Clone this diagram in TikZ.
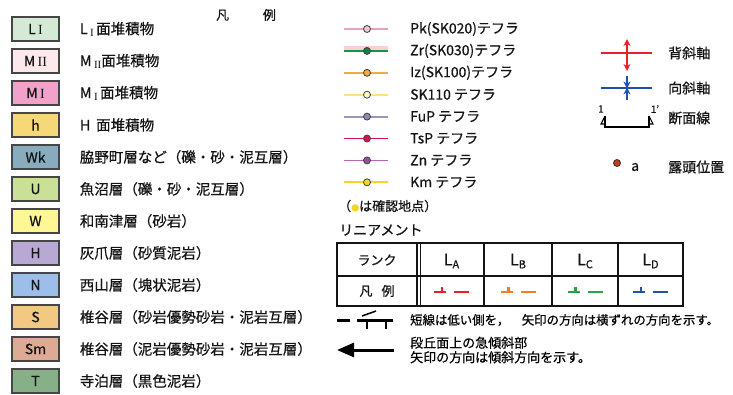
\documentclass[tikz,border=0pt]{standalone}
\usepackage{fontspec}
\setmainfont{Noto Sans CJK JP}[FakeBold=0.6]
\newfontfamily\numfont{Liberation Serif}
\usetikzlibrary{positioning,arrows.meta}
\definecolor{InkGray}{RGB}{20,20,20}
\definecolor{EdgeGray}{RGB}{70,70,70}
% unit colours
\definecolor{UnitLI}{RGB}{212,234,212}
\definecolor{UnitMII}{RGB}{253,232,236}
\definecolor{UnitMI}{RGB}{242,162,202}
\definecolor{UnitH}{RGB}{246,216,120}
\definecolor{UnitWk}{RGB}{134,172,190}
\definecolor{UnitU}{RGB}{202,224,150}
\definecolor{UnitW}{RGB}{255,246,150}
\definecolor{UnitHai}{RGB}{184,168,212}
\definecolor{UnitN}{RGB}{156,190,234}
\definecolor{UnitS}{RGB}{242,200,130}
\definecolor{UnitSm}{RGB}{222,170,150}
\definecolor{UnitT}{RGB}{136,176,136}
% tephra colours
\definecolor{PkLine}{RGB}{232,160,190}
\definecolor{PkDot}{RGB}{242,196,214}
\definecolor{ZrBand}{RGB}{250,206,210}
\definecolor{ZrLine}{RGB}{20,150,70}
\definecolor{ZrDot}{RGB}{25,125,60}
\definecolor{IzLine}{RGB}{240,172,60}
\definecolor{SkLine}{RGB}{255,226,120}
\definecolor{SkDot}{RGB}{255,246,205}
\definecolor{FuPLine}{RGB}{150,150,192}
\definecolor{FuPDot}{RGB}{138,138,180}
\definecolor{TsPLine}{RGB}{212,20,80}
\definecolor{ZnLine}{RGB}{182,100,182}
\definecolor{ZnDot}{RGB}{150,80,160}
\definecolor{KmLine}{RGB}{245,212,40}
% lineament colours
\definecolor{LinRed}{RGB}{225,35,35}
\definecolor{LinOrange}{RGB}{240,128,40}
\definecolor{LinGreen}{RGB}{35,165,70}
\definecolor{LinBlue}{RGB}{35,80,170}
\definecolor{AxisRed}{RGB}{232,32,42}
\definecolor{AxisBlue}{RGB}{31,79,176}
\definecolor{RockRed}{RGB}{200,60,30}
\tikzset{
  unitbox/.style={draw=EdgeGray,line width=1.3pt,minimum width=47pt,
    minimum height=24pt,inner sep=0pt,text=InkGray,font=\fontsize{14}{14}\selectfont},
  desc/.style={anchor=west,inner sep=0pt,text=InkGray,font=\fontsize{14.5}{16}\selectfont},
  cell/.style={inner sep=0pt,text=InkGray,font=\fontsize{14}{16}\selectfont},
  tephra/.style={line width=1.8pt},
  tdot/.style={circle,draw=black!75,line width=0.8pt,minimum size=7pt,inner sep=0pt},
  tabline/.style={draw=InkGray,line width=1.2pt},
  lsym/.style={line width=2.6pt},
  axis/.style={line width=1.6pt},
  fault/.style={line width=3pt,draw=black}
}

\begin{document}
\begin{tikzpicture}[x=1pt,y=-1pt]
  \useasboundingbox (0,0) rectangle (733,394);
  \node[cell,font=\fontsize{13}{13}\selectfont] (title) at (246,15) {凡\hspace{2.6em}例};

  % stratigraphic units
  \node[unitbox,fill=UnitLI] (bLI) at (35.5,29) {L\,{\numfont\fontsize{14}{14}\selectfont I}};
  \node[unitbox,fill=UnitMII] (bMII) at (35.5,61) {M\,{\numfont\fontsize{14}{14}\selectfont II}};
  \node[unitbox,fill=UnitMI] (bMI) at (35.5,93) {M\,{\numfont\fontsize{14}{14}\selectfont I}};
  \node[unitbox,fill=UnitH] (bh) at (35.5,125) {h};
  \node[unitbox,fill=UnitWk] (bWk) at (35.5,157) {Wk};
  \node[unitbox,fill=UnitU] (bU) at (35.5,189) {U};
  \node[unitbox,fill=UnitW] (bW) at (35.5,221) {W};
  \node[unitbox,fill=UnitHai] (bH) at (35.5,253) {H};
  \node[unitbox,fill=UnitN] (bN) at (35.5,285) {N};
  \node[unitbox,fill=UnitS] (bS) at (35.5,317) {S};
  \node[unitbox,fill=UnitSm] (bSm) at (35.5,349) {Sm};
  \node[unitbox,fill=UnitT] (bT) at (35.5,381) {T};
  \node[desc,right=20pt of bLI] (tLI) {L\,\raisebox{-2pt}{\numfont\fontsize{11}{11}\selectfont I}\,面堆積物};
  \node[desc,right=20pt of bMII] (tMII) {M\,\raisebox{-2pt}{\numfont\fontsize{11}{11}\selectfont II}面堆積物};
  \node[desc,right=20pt of bMI] (tMI) {M\,\raisebox{-2pt}{\numfont\fontsize{11}{11}\selectfont I}\,面堆積物};
  \node[desc,right=20pt of bh] (th) {H\hspace{0.4em}面堆積物};
  \node[desc,right=20pt of bWk] (tWk) {脇野町層など（礫・砂・泥互層）};
  \node[desc,right=20pt of bU] (tU) {魚沼層（礫・砂・泥互層）};
  \node[desc,right=20pt of bW] (tW) {和南津層（砂岩）};
  \node[desc,right=20pt of bH] (tH) {灰爪層（砂質泥岩）};
  \node[desc,right=20pt of bN] (tN) {西山層（塊状泥岩）};
  \node[desc,right=20pt of bS] (tS) {椎谷層（砂岩優勢砂岩・泥岩互層）};
  \node[desc,right=20pt of bSm] (tSm) {椎谷層（泥岩優勢砂岩・泥岩互層）};
  \node[desc,right=20pt of bT] (tT) {寺泊層（黒色泥岩）};

  % tephra
  \draw[tephra,PkLine] (344,29) -- (388,29);
  \draw[line width=4pt,ZrBand] (344,48) -- (388,48);
  \draw[line width=2.2pt,ZrLine] (344,50.9) -- (388,50.9);
  \draw[tephra,IzLine] (344,72.8) -- (388,72.8);
  \draw[tephra,SkLine] (344,94.7) -- (388,94.7);
  \draw[tephra,FuPLine] (344,116.6) -- (388,116.6);
  \draw[tephra,TsPLine] (344,138.5) -- (388,138.5);
  \draw[tephra,ZnLine] (344,160.4) -- (388,160.4);
  \draw[tephra,KmLine] (344,182.3) -- (388,182.3);
  \node[tdot,fill=PkDot] (dPk) at (367,29) {};
  \node[tdot,fill=ZrDot] (dZr) at (367,50.9) {};
  \node[tdot,fill=IzLine] (dIz) at (367,72.8) {};
  \node[tdot,fill=SkDot] (dSk) at (367,94.7) {};
  \node[tdot,fill=FuPDot] (dFuP) at (367,116.6) {};
  \node[tdot,fill=TsPLine] (dTsP) at (367,138.5) {};
  \node[tdot,fill=ZnDot] (dZn) at (367,160.4) {};
  \node[tdot,fill=KmLine] (dKm) at (367,182.3) {};
  \node[desc,font=\fontsize{14}{16}\selectfont] (tPk) at (410,29) {Pk(SK020)テフラ};
  \node[desc,font=\fontsize{14}{16}\selectfont] (tZr) at (410,50.9) {Zr(SK030)テフラ};
  \node[desc,font=\fontsize{14}{16}\selectfont] (tIz) at (410,72.8) {Iz(SK100)テフラ};
  \node[desc,font=\fontsize{14}{16}\selectfont] (tSk) at (410,94.7) {SK110 テフラ};
  \node[desc,font=\fontsize{14}{16}\selectfont] (tFuP) at (410,116.6) {FuP テフラ};
  \node[desc,font=\fontsize{14}{16}\selectfont] (tTsP) at (410,138.5) {TsP テフラ};
  \node[desc,font=\fontsize{14}{16}\selectfont] (tZn) at (410,160.4) {Zn テフラ};
  \node[desc,font=\fontsize{14}{16}\selectfont] (tKm) at (410,182.3) {Km テフラ};
  \node[desc,font=\fontsize{13}{15}\selectfont] (note) at (338,206)
    {（{\fontsize{8}{8}\selectfont\textcolor{KmLine}{●}}は確認地点）};

  % lineament table
  \node[desc,font=\fontsize{14}{16}\selectfont] (lineTitle) at (339,230) {リニアメント};
  \draw[tabline] (337,243) rectangle (683,306);
  \draw[tabline] (337,276) -- (683,276);
  \draw[tabline] (417,243) -- (417,306) (420.5,243) -- (420.5,306);
  \draw[tabline] (484,243) -- (484,306) (552,243) -- (552,306) (618,243) -- (618,306);
  \node[cell,font=\fontsize{13}{15}\selectfont] (hRank) at (377,260) {ランク};
  \node[cell,font=\fontsize{13}{15}\selectfont] (hLeg) at (377,291) {凡\hspace{0.7em}例};
  \node[cell,font=\fontsize{16}{16}\selectfont] (rA) at (451.5,261) {L\raisebox{-3pt}{\fontsize{11}{11}\selectfont A}};
  \node[cell,font=\fontsize{16}{16}\selectfont] (rB) at (518,261) {L\raisebox{-3pt}{\fontsize{11}{11}\selectfont B}};
  \node[cell,font=\fontsize{16}{16}\selectfont] (rC) at (585,261) {L\raisebox{-3pt}{\fontsize{11}{11}\selectfont C}};
  \node[cell,font=\fontsize{16}{16}\selectfont] (rD) at (650.5,261) {L\raisebox{-3pt}{\fontsize{11}{11}\selectfont D}};
  \draw[lsym,LinRed] (434,292) -- (446,292) (442,292) -- (442,286.5) (454,292) -- (469,292);
  \draw[lsym,LinOrange] (500.5,292) -- (512.5,292) (508.5,292) -- (508.5,286.5) (520.5,292) -- (535.5,292);
  \draw[lsym,LinGreen] (567.5,292) -- (579.5,292) (575.5,292) -- (575.5,286.5) (587.5,292) -- (602.5,292);
  \draw[lsym,LinBlue] (633,292) -- (645,292) (641,292) -- (641,286.5) (653,292) -- (668,292);

  % fault and slope symbols
  \draw[fault] (337,320) -- (350,320) (357,320) -- (393,320);
  \draw[line width=2.5pt] (367,320) -- (367,329) (386,320) -- (386,329);
  \draw[line width=1.5pt] (362,316) -- (376,311);
  \node[desc,font=\fontsize{12.4}{14}\selectfont,text=black] (tFault) at (410,320)
    {短線は低い側を，　矢印の方向は横ずれの方向を示す。};
  \draw[line width=3pt,-{Triangle[length=17pt,width=14pt]}] (394,350) -- (337,350);
  \node[desc,font=\fontsize{13}{14.5}\selectfont,text=black,align=left] (tSlope) at (410,350)
    {段丘面上の急傾斜部\\矢印の方向は傾斜方向を示す。};

  % fold axes, section line, outcrop
  \draw[axis,AxisRed] (601,53) -- (652,53);
  \draw[axis,AxisRed,{Stealth[length=7pt,width=7pt]}-{Stealth[length=7pt,width=7pt]}] (627,39) -- (627,71);
  \draw[axis,AxisBlue] (601,88) -- (652,88);
  \draw[axis,AxisBlue,-{Stealth[length=7pt,width=7pt]}] (627,76) -- (627,88.5);
  \draw[axis,AxisBlue,-{Stealth[length=7pt,width=7pt]}] (627,100) -- (627,87.5);
  \node[cell,font=\fontsize{10}{10}\selectfont] (sec1) at (601,109) {1};
  \node[cell,font=\fontsize{10}{10}\selectfont] (sec1b) at (655,109) {1'};
  \draw[line width=1.1pt] (605,116) -- (605,127) -- (649,127) -- (649,116);
  \draw[line width=1.1pt] (605,116) -- (601,124) -- (605,124) (649,116) -- (653,124) -- (649,124);
  \node[circle,draw=black!80,fill=RockRed,line width=0.8pt,minimum size=7pt,inner sep=0pt] (rock) at (617,163) {};
  \node[desc,font=\fontsize{14}{16}\selectfont] (rockA) at (631,167) {a};
  \node[desc,font=\fontsize{14}{16}\selectfont] (tAnti) at (668,53) {背斜軸};
  \node[desc,font=\fontsize{14}{16}\selectfont] (tSyn) at (668,88) {向斜軸};
  \node[desc,font=\fontsize{14}{16}\selectfont] (tSec) at (668,118) {断面線};
  \node[desc,font=\fontsize{14}{16}\selectfont] (tRock) at (668,167) {露頭位置};
\end{tikzpicture}
\end{document}
